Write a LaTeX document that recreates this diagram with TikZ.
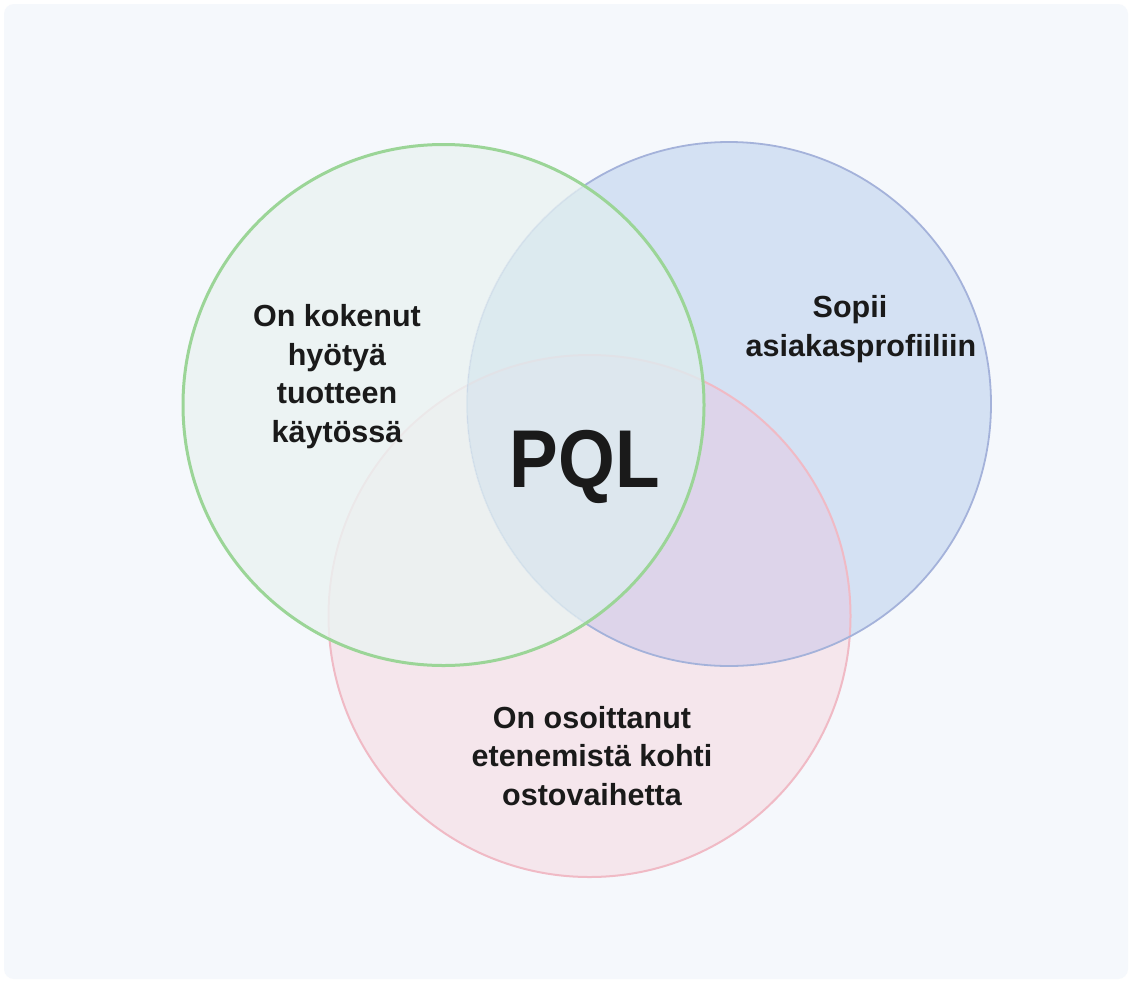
\documentclass[tikz,border=0pt]{standalone}
\usepackage{fontspec}
\setmainfont{Liberation Sans}
\definecolor{panelbg}{HTML}{F5F8FC}
\definecolor{pinkonly}{HTML}{F5E6EC}
\definecolor{blueonly}{HTML}{D4E1F3}
\definecolor{bluepink}{HTML}{DDD4EA}
\definecolor{greenonly}{HTML}{EBF3F2}
\definecolor{greenblue}{HTML}{DEECEF}
\definecolor{greenline}{HTML}{9BD597}
\definecolor{blueline}{HTML}{A4B2DA}
\definecolor{pinkline}{HTML}{F0BAC5}
\definecolor{inkdark}{HTML}{1A1A1A}
\tikzset{
  setlabel/.style={font=\bfseries\fontsize{30.5}{38.5}\selectfont, text=inkdark,
    align=center, anchor=base, inner sep=0pt},
  bigmark/.style={font=\bfseries\fontsize{82}{82}\selectfont, anchor=base, inner sep=0pt},
}
\begin{document}
\begin{tikzpicture}[x=1pt,y=-1pt]
  \useasboundingbox (0,0) rectangle (1132,983);
  \fill[white] (0,0) rectangle (1132,983);
  \fill[panelbg, rounded corners=10pt] (4,4) rectangle (1128,979);

  \def\rp{261}\def\rb{262}\def\rg{260.5}
  \coordinate (cpink) at (589.5,616);
  \coordinate (cblue) at (729,404);
  \coordinate (cgreen) at (443.5,405);

  % pink and blue sets with their overlap
  \fill[pinkonly] (cpink) circle[radius=\rp];
  \fill[blueonly] (cblue) circle[radius=\rb];
  \begin{scope}
    \clip (cblue) circle[radius=\rb];
    \fill[bluepink] (cpink) circle[radius=\rp];
  \end{scope}
  \draw[pinkline, line width=2pt] (cpink) circle[radius=\rp];
  \draw[blueline, line width=1.8pt] (cblue) circle[radius=\rb];

  % green set laid over the others, letting their outlines show faintly
  \begin{scope}
    \clip (cgreen) circle[radius=\rg];
    \fill[greenonly, fill opacity=0.82, even odd rule]
      (cgreen) circle[radius=\rg] (cblue) circle[radius=\rb];
    \fill[greenblue, fill opacity=0.82] (cblue) circle[radius=\rb];
  \end{scope}
  \draw[greenline, line width=3pt] (cgreen) circle[radius=\rg];

  % set labels
  \node[setlabel] (lgreen) at (337,442) {On kokenut\\hyötyä\\tuotteen\\käytössä};
  \node[setlabel] (lblue) at (861,356) {\hspace*{-22pt}Sopii\\asiakasprofiiliin};
  \node[setlabel] (lpink) at (592,805) {On osoittanut\\etenemistä kohti\\ostovaihetta};

  % centre mark
  \node[bigmark, text=inkdark] (pql) at (585,487) {\scalebox{0.89}[1]{PQL}};
\end{tikzpicture}
\end{document}
